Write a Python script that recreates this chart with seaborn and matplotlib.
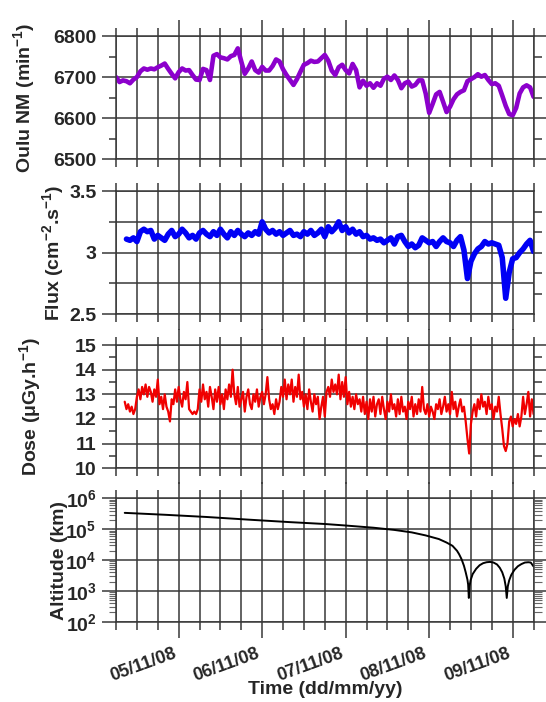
import numpy as np
import pandas as pd
import matplotlib
matplotlib.use("Agg")
import matplotlib.pyplot as plt
import matplotlib.dates as mdates
import matplotlib.ticker as mticker
import seaborn as sns

# ---- data ----
# Oulu neutron monitor count rate, hourly from 04/11/08 06:00
oulu_nm = [6700, 6688, 6692, 6690, 6685, 6694, 6700, 6714, 6721, 6718,
           6721, 6719, 6724, 6728, 6733, 6720, 6708, 6697, 6712, 6721,
           6716, 6717, 6705, 6694, 6693, 6720, 6717, 6693, 6752, 6756,
           6748, 6746, 6743, 6751, 6754, 6770, 6738, 6708, 6721, 6738,
           6717, 6711, 6725, 6716, 6716, 6727, 6743, 6738, 6719, 6705,
           6693, 6681, 6695, 6713, 6730, 6734, 6740, 6737, 6738, 6746,
           6754, 6740, 6716, 6705, 6724, 6730, 6717, 6709, 6732, 6717,
           6675, 6691, 6679, 6685, 6674, 6685, 6679, 6696, 6701, 6693,
           6704, 6693, 6673, 6685, 6689, 6677, 6681, 6692, 6692, 6660,
           6613, 6635, 6658, 6664, 6640, 6615, 6628, 6646, 6658, 6664,
           6668, 6690, 6695, 6700, 6707, 6701, 6705, 6693, 6683, 6685,
           6679, 6655, 6630, 6610, 6607, 6625, 6660, 6675, 6680, 6675,
           6652]
oulu_start = "2008-11-04 06:00"

# particle flux, hourly from 04/11/08 09:00
flux = [3.11, 3.10, 3.12, 3.09, 3.17, 3.19, 3.17, 3.18, 3.11, 3.14,
        3.12, 3.10, 3.15, 3.18, 3.13, 3.15, 3.19, 3.16, 3.12, 3.14,
        3.11, 3.16, 3.18, 3.15, 3.13, 3.17, 3.14, 3.19, 3.15, 3.12,
        3.17, 3.14, 3.18, 3.15, 3.13, 3.16, 3.14, 3.17, 3.15, 3.25,
        3.19, 3.16, 3.18, 3.15, 3.17, 3.14, 3.16, 3.18, 3.14, 3.15,
        3.13, 3.17, 3.15, 3.18, 3.14, 3.16, 3.19, 3.13, 3.21, 3.17,
        3.20, 3.25, 3.18, 3.21, 3.16, 3.19, 3.15, 3.17, 3.13, 3.14,
        3.11, 3.12, 3.10, 3.11, 3.08, 3.10, 3.12, 3.07, 3.13, 3.14,
        3.09, 3.05, 3.07, 3.04, 3.06, 3.12, 3.10, 3.08, 3.09, 3.05,
        3.09, 3.12, 3.09, 3.08, 3.05, 3.10, 3.13, 3.02, 2.79, 2.93,
        2.99, 3.03, 3.05, 3.09, 3.07, 3.08, 3.07, 3.06, 2.96, 2.63,
        2.84, 2.95, 2.96, 3.00, 3.03, 3.07, 3.10, 3.01]
flux_start = "2008-11-04 09:00"

# dose rate, every half hour from 04/11/08 08:30
dose = [12.7, 12.4, 12.6, 12.3, 12.5, 12.2, 12.4, 12.9, 13.2, 12.8,
        13.3, 13.0, 13.4, 12.9, 13.3, 13.1, 12.7, 13.2, 12.9, 13.6,
        12.6, 12.9, 12.4, 13.0, 12.5, 12.3, 11.9, 12.8, 12.6, 13.2,
        12.7, 13.3, 12.8, 12.5, 13.1, 12.8, 13.5, 12.4, 12.3, 12.2,
        12.3, 12.2, 12.4, 13.2, 12.7, 13.4, 12.8, 13.1, 12.5, 13.3,
        12.9, 12.4, 13.2, 12.7, 13.3, 12.6, 13.0, 12.4, 13.2, 12.8,
        13.4, 12.9, 14.0, 13.0, 12.6, 13.3, 12.5, 12.8, 13.1, 12.3,
        12.9, 13.2, 12.6, 12.4, 13.0, 12.7, 13.2, 12.5, 12.9, 13.1,
        12.6, 13.0, 13.7, 12.8, 12.4, 12.6, 12.2, 12.8, 12.4, 12.7,
        13.3, 12.9, 13.6, 12.8, 13.4, 13.0, 13.6, 12.7, 13.3, 12.9,
        13.8, 12.8, 13.1, 12.5, 13.0, 12.4, 13.2, 12.7, 12.3, 13.0,
        12.6, 12.9, 12.0, 12.5, 12.9, 12.1, 13.1, 13.3, 12.9, 13.6,
        13.1, 13.4, 13.0, 13.8, 12.8, 13.5, 12.9, 13.7, 12.6, 13.1,
        12.5, 12.9, 12.4, 13.0, 12.6, 12.8, 12.3, 12.9, 12.2, 12.7,
        12.0, 12.8, 12.3, 12.9, 12.1, 12.6, 12.8, 12.2, 12.9, 12.4,
        12.0, 12.7, 12.3, 13.0, 12.4, 12.6, 12.1, 12.8, 12.2, 12.9,
        12.3, 12.5, 12.0, 12.7, 12.4, 12.9, 12.1, 12.6, 12.2, 12.8,
        12.3, 13.3, 12.4, 12.2, 12.6, 12.1, 12.5, 12.3, 12.0, 12.6,
        12.4, 12.8, 12.2, 12.5, 12.9, 12.3, 12.6, 12.2, 13.1, 12.4,
        12.7, 12.1, 12.5, 12.8, 12.3, 12.5, 11.9, 11.2, 10.6, 11.8,
        12.3, 12.6, 12.1, 12.8, 12.4, 13.0, 12.5, 12.7, 12.2, 12.9,
        12.4, 12.6, 12.0, 12.5, 12.3, 12.9, 12.2, 11.6, 10.9, 10.7,
        11.0, 11.9, 12.1, 11.7, 12.0, 11.8, 12.2, 11.7, 12.1, 12.9,
        12.2, 12.6, 13.1, 12.1, 12.8, 12.2]
dose_start = "2008-11-04 08:30"

# spacecraft altitude (km), hours after 04/11/08 00:00
alt_hours = [8.5, 20, 32, 44, 56, 66, 72, 80, 86, 91, 95, 98.8, 101, 102.7,
             104, 104.6, 105.3, 106, 106.5, 107, 107.2, 107.4, 107.6, 107.9,
             108.5, 109.5, 110.5, 111.5, 112.5, 113.5, 114.5, 115.5, 116.3,
             117, 117.6, 118.0, 118.3, 118.6, 119.0, 119.6, 120.5, 121.5,
             122.5, 123.5, 124.5, 125.2, 126]
alt_km = [3.4e5, 2.95e5, 2.5e5, 2.05e5, 1.7e5, 1.48e5, 1.32e5, 1.12e5, 9.5e4,
          7.9e4, 6.3e4, 4.8e4, 3.7e4, 2.9e4, 2.0e4, 1.55e4, 1.07e4, 6.5e3,
          4.0e3, 2.3e3, 1.6e3, 590, 1.4e3, 2.2e3, 3.5e3, 5.2e3, 6.8e3,
          7.9e3, 8.5e3, 8.7e3, 8.3e3, 7.2e3, 5.6e3, 4.0e3, 2.5e3, 1.4e3,
          590, 1.4e3, 2.2e3, 3.3e3, 4.8e3, 6.3e3, 7.4e3, 8.3e3, 8.5e3,
          8.3e3, 6.2e3]

df_oulu = pd.DataFrame({"time": pd.date_range(oulu_start, periods=len(oulu_nm), freq="h"),
                        "val": oulu_nm})
df_flux = pd.DataFrame({"time": pd.date_range(flux_start, periods=len(flux), freq="h"),
                        "val": flux})
df_dose = pd.DataFrame({"time": pd.date_range(dose_start, periods=len(dose), freq="30min"),
                        "val": dose})
df_alt = pd.DataFrame({"time": pd.Timestamp("2008-11-04") + pd.to_timedelta(alt_hours, unit="h"),
                       "val": alt_km})

# ---- style ----
sns.set_theme(style="ticks")
plt.rcParams["font.family"] = ["Liberation Sans", "DejaVu Sans"]
plt.rcParams["font.weight"] = "bold"
plt.rcParams["mathtext.fontset"] = "custom"
plt.rcParams["mathtext.rm"] = "Liberation Sans:bold"
plt.rcParams["mathtext.bf"] = "Liberation Sans:bold"
plt.rcParams["mathtext.it"] = "Liberation Sans:bold"
plt.rcParams["axes.unicode_minus"] = False

gcol = "#383838"
lab_fs = 14

fig = plt.figure(figsize=(5.46, 7.02), dpi=100)
left, width, height = 0.2125, 0.7647, 0.1756
bottoms = [0.7731, 0.5523, 0.3329, 0.1144]
axes = [fig.add_axes([left, b, width, height]) for b in bottoms]

sns.lineplot(data=df_oulu, x="time", y="val", ax=axes[0], color="#8C00CC",
             lw=3.3, estimator=None)
sns.lineplot(data=df_flux, x="time", y="val", ax=axes[1], color="#0000F5",
             lw=4.0, estimator=None)
sns.lineplot(data=df_dose, x="time", y="val", ax=axes[2], color="#F00000",
             lw=1.6, estimator=None)
axes[3].set_yscale("log")
sns.lineplot(data=df_alt, x="time", y="val", ax=axes[3], color="black",
             lw=1.4, estimator=None)

for ax in axes:
    ax.set_xlim(pd.Timestamp("2008-11-04 06:00"), pd.Timestamp("2008-11-09 06:00"))
    ax.xaxis.set_major_locator(mdates.DayLocator())
    ax.xaxis.set_minor_locator(mdates.HourLocator(byhour=[6, 12, 18]))
    ax.xaxis.set_major_formatter(mdates.DateFormatter("%d/%m/%y"))
    ax.tick_params(axis="x", which="major", direction="out", length=11.5,
                   width=1.1, color=gcol, top=True, bottom=True, pad=5)
    ax.tick_params(axis="x", which="minor", direction="out", length=5.8,
                   width=1.1, color=gcol, top=True, bottom=True)
    ax.tick_params(axis="y", which="major", direction="out", length=10,
                   width=1.1, color=gcol, left=True, right=True,
                   labelsize=14, pad=4)
    ax.tick_params(axis="y", which="minor", direction="out", length=5.4,
                   width=1.1, color=gcol, left=True, right=True)
    ax.grid(True, axis="x", which="both", color=gcol, lw=1.1)
    ax.grid(True, axis="y", which="major", color=gcol, lw=1.1)
    ax.set_axisbelow(True)
    for sp in ax.spines.values():
        sp.set_color(gcol)
        sp.set_linewidth(1.1)
    ax.set_xlabel("")

for ax in axes[:3]:
    ax.tick_params(axis="x", labelbottom=False)

# panel 1
axes[0].set_ylim(6500, 6800)
axes[0].yaxis.set_major_locator(mticker.MultipleLocator(100))
axes[0].yaxis.set_minor_locator(mticker.MultipleLocator(50))
axes[0].set_ylabel("Oulu NM (min$^{-1}$)", fontsize=lab_fs, fontweight="bold")
axes[0].yaxis.set_label_coords(-0.19, 0.5)

# panel 2
axes[1].set_ylim(2.5, 3.5)
axes[1].yaxis.set_major_locator(mticker.MultipleLocator(0.5))
axes[1].yaxis.set_minor_locator(mticker.MultipleLocator(0.25))
axes[1].yaxis.set_major_formatter(mticker.FuncFormatter(lambda v, p: "%g" % v))
axes[1].grid(True, axis="y", which="minor", color=gcol, lw=1.1)
axes[1].tick_params(axis="y", which="minor", right=False)
axes[1].set_ylabel("Flux (cm$^{-2}$.s$^{-1}$)", fontsize=lab_fs, fontweight="bold")
axes[1].yaxis.set_label_coords(-0.12, 0.5)
tw = axes[1].twinx()
tw.set_ylim(0, 6)
tw.set_yticks([1, 2, 3, 4, 5])
tw.tick_params(axis="y", direction="out", length=5.4, width=1.1, color=gcol,
               labelright=False)
for sp in tw.spines.values():
    sp.set_visible(False)

# panel 3
axes[2].set_ylim(10, 15)
axes[2].yaxis.set_major_locator(mticker.MultipleLocator(1))
axes[2].yaxis.set_minor_locator(mticker.MultipleLocator(0.5))
axes[2].set_ylabel("Dose (\u03bcGy.h$^{-1}$)", fontsize=lab_fs, fontweight="bold")
axes[2].yaxis.set_label_coords(-0.175, 0.5)

# panel 4
axes[3].set_ylim(1e2, 1e6)
axes[3].yaxis.set_major_locator(mticker.LogLocator(base=10, numticks=10))
axes[3].yaxis.set_minor_locator(mticker.LogLocator(base=10, subs=np.arange(2, 10), numticks=10))
axes[3].yaxis.set_major_formatter(
    mticker.FuncFormatter(lambda v, p: r"$\mathbf{10^{%d}}$" % round(np.log10(v))))
axes[3].yaxis.set_minor_formatter(mticker.NullFormatter())
axes[3].tick_params(axis="y", which="minor", width=0.8, color="#666666")
axes[3].set_ylabel("Altitude (km)", fontsize=lab_fs, fontweight="bold")
axes[3].yaxis.set_label_coords(-0.115, 0.5)
for lab in axes[3].get_xticklabels():
    lab.set_rotation(20)
    lab.set_ha("right")
    lab.set_fontsize(13)
    lab.set_fontweight("bold")
axes[3].set_xlabel("Time (dd/mm/yy)", fontsize=14, fontweight="bold")
axes[3].xaxis.set_label_coords(0.5, -0.48)

fig.savefig("out.png", dpi=100)
